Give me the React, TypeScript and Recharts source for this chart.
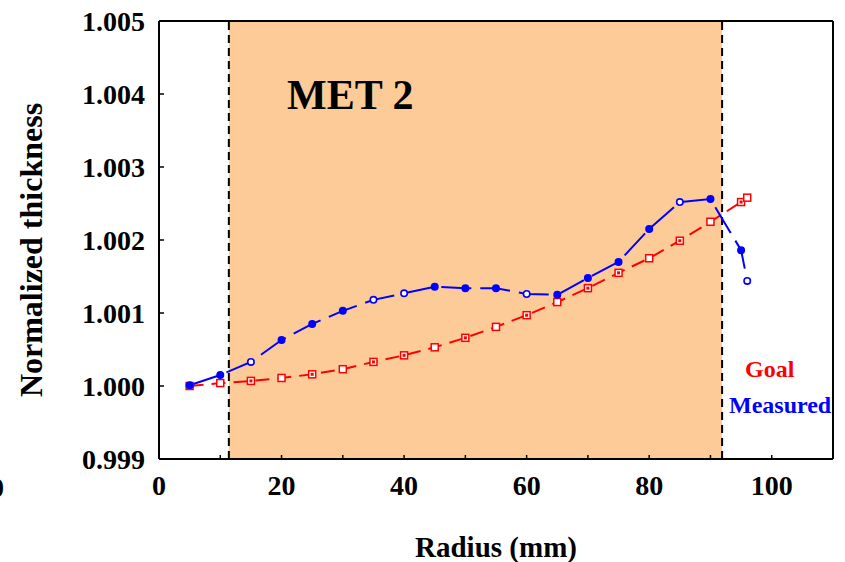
import React from 'react';
import { LineChart, Line, XAxis, YAxis, ReferenceArea, ReferenceLine } from 'recharts';

// radius positions (mm) shared by both curves
const radius = [5, 10, 15, 20, 25, 30, 35, 40, 45, 50, 55, 60, 65, 70, 75, 80, 85, 90, 95, 96];
const goal = [
  1.0, 1.00004, 1.00007, 1.00011, 1.00016, 1.00023, 1.00033, 1.00042, 1.00053, 1.00066,
  1.00081, 1.00097, 1.00115, 1.00134, 1.00155, 1.00175, 1.00199, 1.00225, 1.00252, 1.00258,
];
const measured = [
  1.00001, 1.00015, 1.00033, 1.00063, 1.00085, 1.00103, 1.00118, 1.00127, 1.00136, 1.00134,
  1.00134, 1.00126, 1.00125, 1.00148, 1.0017, 1.00215, 1.00252, 1.00256, 1.00186, 1.00144,
];
const xTicks = [0, 10, 20, 30, 40, 50, 60, 70, 80, 90, 100, 110];
const yTicks = [0.999, 1.0, 1.001, 1.002, 1.003, 1.004, 1.005];
const metStart = 11.4;
const metEnd = 91.9;

const BLUE = '#0000ff';
const RED = '#ff0000';
const SHADE = '#fdcb98';
const FONT = '"Liberation Serif", "Times New Roman", serif';

// which markers are drawn hollow / filled in the original plot
const BLUE_OPEN = new Set([2, 6, 7, 11, 16, 19]);
const RED_FILLED = new Set([2, 4, 6, 7, 9, 11, 13, 14, 16, 18]);

const data = radius.map((r, i) => ({ r, goal: goal[i], measured: measured[i] }));

const MeasuredDot = (props: any) => {
  const { cx, cy, index } = props;
  if (cx == null || cy == null) return <g key={`m-${index}`} />;
  return (
    <circle
      key={`m-${index}`}
      cx={cx}
      cy={cy}
      r={3.2}
      stroke={BLUE}
      strokeWidth={1.6}
      fill={BLUE_OPEN.has(index) ? '#fff' : BLUE}
    />
  );
};

const GoalDot = (props: any) => {
  const { cx, cy, index } = props;
  if (cx == null || cy == null) return <g key={`g-${index}`} />;
  const filled = RED_FILLED.has(index);
  return (
    <g key={`g-${index}`}>
      <rect x={cx - 3.5} y={cy - 3.5} width={7} height={7} stroke={RED} strokeWidth={1.5} fill="#fff" />
      {filled && <rect x={cx - 1.5} y={cy - 1.5} width={3} height={3} fill={RED} />}
    </g>
  );
};

const XTick = (props: any) => {
  const { x, y, payload } = props;
  const v = payload.value;
  if (v % 20 !== 0 || v > 100) return <g />;
  return (
    <text x={x} y={y} dy="0.71em" textAnchor="middle" fontSize={28} fontWeight={700} fill="#000" fontFamily={FONT}>
      {v}
    </text>
  );
};

const axisLine = { stroke: '#000', strokeWidth: 2 };
const tickLine = { stroke: '#000', strokeWidth: 1.5 };

export default function App() {
  return (
    <div style={{ position: 'absolute', left: 0, top: 0, width: 845, height: 562, background: '#fff' }}>
      <LineChart
        width={845}
        height={562}
        data={data}
        margin={{ top: 20, right: 11, bottom: 73, left: 99 }}
      >
        <XAxis
          dataKey="r"
          type="number"
          domain={[0, 110]}
          ticks={xTicks}
          interval={0}
          height={30}
          tickSize={-4}
          tickMargin={20}
          axisLine={axisLine}
          tickLine={tickLine}
          tick={XTick}
          allowDataOverflow
        />
        <XAxis
          xAxisId="top"
          orientation="top"
          dataKey="r"
          type="number"
          domain={[0, 110]}
          ticks={xTicks}
          interval={0}
          height={1}
          tickSize={-4}
          axisLine={axisLine}
          tickLine={tickLine}
          tick={false}
          allowDataOverflow
        />
        <YAxis
          type="number"
          domain={[0.999, 1.005]}
          ticks={yTicks}
          interval={0}
          width={60}
          tickSize={-5}
          tickMargin={19}
          axisLine={axisLine}
          tickLine={tickLine}
          tickFormatter={(v: number) => v.toFixed(3)}
          tick={{ fontSize: 28, fontWeight: 700, fill: '#000', fontFamily: FONT }}
          allowDataOverflow
        />
        <YAxis
          yAxisId="right"
          orientation="right"
          type="number"
          domain={[0.999, 1.005]}
          ticks={yTicks}
          interval={0}
          width={1}
          tickSize={-5}
          axisLine={axisLine}
          tickLine={tickLine}
          tick={false}
          allowDataOverflow
        />
        <ReferenceArea x1={metStart} x2={metEnd} fill={SHADE} fillOpacity={1} stroke="none" />
        <ReferenceLine x={metStart} stroke="#000" strokeWidth={2} strokeDasharray="8 5" />
        <ReferenceLine x={metEnd} stroke="#000" strokeWidth={2} strokeDasharray="8 5" />
        <Line
          type="linear"
          dataKey="goal"
          stroke={RED}
          strokeWidth={2}
          strokeDasharray="14 8"
          dot={GoalDot}
          isAnimationActive={false}
        />
        <Line
          type="linear"
          dataKey="measured"
          stroke={BLUE}
          strokeWidth={2}
          strokeDasharray="30 9"
          dot={MeasuredDot}
          isAnimationActive={false}
        />
      </LineChart>
      <svg
        width={845}
        height={562}
        style={{ position: 'absolute', left: 0, top: 0, pointerEvents: 'none' }}
        fontFamily={FONT}
        fontWeight={700}
      >
        <text x={287} y={109} fontSize={42} fill="#000">MET 2</text>
        <text x={745} y={377} fontSize={24} fill={RED}>Goal</text>
        <text x={729} y={413} fontSize={24} fill={BLUE}>Measured</text>
        <text x={496} y={557} fontSize={29} textAnchor="middle" fill="#000">Radius (mm)</text>
        <text transform="translate(42,250) rotate(-90)" fontSize={32} textAnchor="middle" fill="#000">
          Normalized thickness
        </text>
        <text x={4} y={497} fontSize={28} textAnchor="end" fill="#000">0</text>
      </svg>
    </div>
  );
}
